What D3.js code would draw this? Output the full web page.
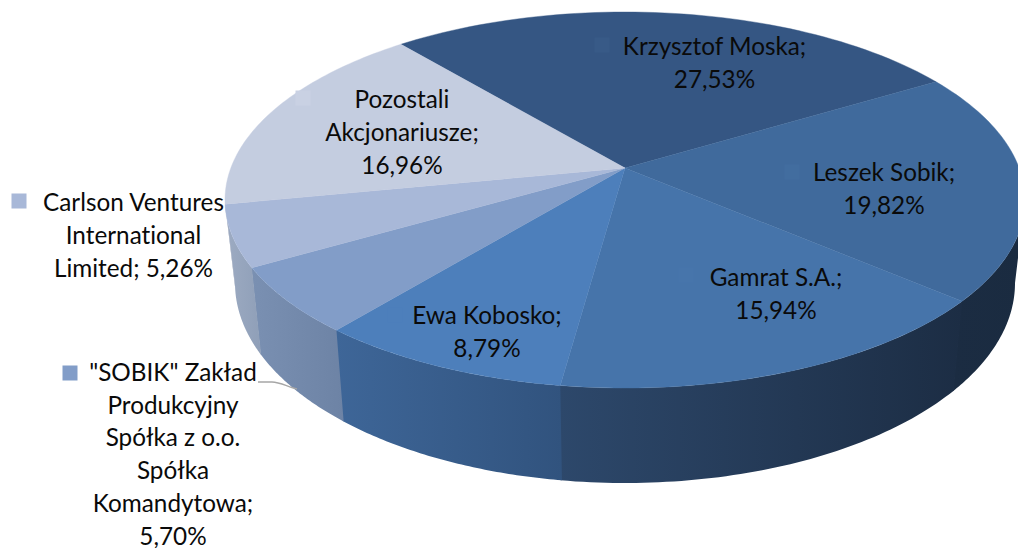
<!DOCTYPE html>
<html><head><meta charset="utf-8">
<script src="https://cdn.jsdelivr.net/npm/d3@7"></script>
<style>html,body{margin:0;padding:0;background:#fff}svg{display:block}text{font-family:Lato,"Open Sans",sans-serif;font-size:24.3px;fill:#0a0a0a;text-anchor:middle;font-variant-ligatures:none}</style>
</head><body>
<svg id="c" width="1018" height="548"></svg>
<script>
const categories = ["Krzysztof Moska","Leszek Sobik","Gamrat S.A.","Ewa Kobosko","\"SOBIK\" Zakład Produkcyjny Spółka z o.o. Spółka Komandytowa","Carlson Ventures International Limited","Pozostali Akcjonariusze"];
const values = [27.53,19.82,15.94,8.79,5.70,5.26,16.96];
const labelLines = [
  ["Krzysztof Moska;","27,53%"],
  ["Leszek Sobik;","19,82%"],
  ["Gamrat S.A.;","15,94%"],
  ["Ewa Kobosko;","8,79%"],
  ["\"SOBIK\" Zakład","Produkcyjny","Spółka z o.o.","Spółka","Komandytowa;","5,70%"],
  ["Carlson Ventures","International","Limited; 5,26%"],
  ["Pozostali","Akcjonariusze;","16,96%"]
];
const topColors = ["#355683","#406a9c","#4674aa","#4d7fbb","#829dc8","#a8b8d8","#c4cde0"];
const wallFrom  = ["#1f3047","#1b2c42","#2d486b","#3e6698","#7a90b2","#9dabc2","#b0b8c8"];
const wallTo    = ["#1f3047","#1a2b40","#1c2d44","#31537e","#6d83a5","#8f9fb8","#b0b8c8"];
const keyColors = ["#385a87","#426d9f","#4775ab","#4d7fbb","#829dc8","#a8b8d8","#c9d1e3"];
// label layout: block centre x, first-line centre y, legend key centre, line step
const labelLayout = [
  {x:714.5,y:46,kx:602,ky:45,lh:33},
  {x:884,y:172,kx:792,ky:172,lh:33},
  {x:776,y:277,kx:686,ky:275,lh:33},
  {x:487,y:315,kx:395,ky:315,lh:33},
  {x:173,y:372,kx:70,ky:373,lh:32.8},
  {x:133.5,y:202,kx:19,ky:201,lh:33},
  {x:402,y:99,kx:303,ky:98,lh:33}
];

const topE = {cx:625,cy:200,rx:400,ry:188};
const botE = {cx:625,cy:283,rx:390,ry:200};
const apexY = 168;
const apexShift = (topE.cy-apexY)/topE.ry;
const deg = Math.PI/180;
const svg = d3.select("#c");
const startDeg = -40;
const pie = d3.pie().sort(null).startAngle(startDeg*deg).endAngle(startDeg*deg+2*Math.PI);
const arcs = pie(values);

// perspective: maps a true pie angle to the parameter on the projected ellipse
function param(a){
  const x=Math.sin(a), y=Math.cos(a), e=apexShift, d=1+e*y;
  return Math.atan2(x*Math.sqrt(1-e*e)/d,(y+e)/d);
}
const pt=(el,t)=>[el.cx+el.rx*Math.sin(t), el.cy-el.ry*Math.cos(t)];
const line=d3.line();
const apex=[topE.cx, apexY];
function range(d){
  let t0=param(d.startAngle), t1=param(d.endAngle);
  while(t1<t0) t1+=2*Math.PI;
  return [t0,t1];
}
function samples(t0,t1){ return d3.range(0,61).map(i=>t0+(t1-t0)*i/60); }

const defs=svg.append("defs");
// walls: drawn from the right so that each overlaps its neighbour's seam
arcs.forEach((d,i)=>{
  let [t0,t1]=range(d);
  if(t0<0){t0+=2*Math.PI;t1+=2*Math.PI;}
  const a=Math.max(t0,Math.PI/2), b=Math.min(t1+0.004,1.5*Math.PI);
  if(b<=a) return;
  const ts=samples(a,b);
  const pts=ts.map(t=>pt(topE,t)).concat(ts.slice().reverse().map(t=>pt(botE,t)));
  const xs=pts.map(p=>p[0]);
  const g=defs.append("linearGradient").attr("id","w"+i).attr("gradientUnits","userSpaceOnUse")
    .attr("x1",d3.min(xs)).attr("x2",d3.max(xs)).attr("y1",0).attr("y2",0);
  g.append("stop").attr("offset",0).attr("stop-color",wallFrom[i]);
  g.append("stop").attr("offset",1).attr("stop-color",wallTo[i]);
  svg.append("path").attr("d",line(pts)+"Z").attr("fill",`url(#w${i})`);
});
// top face
arcs.forEach((d,i)=>{
  const [t0,t1]=range(d);
  const pts=[apex].concat(samples(t0,t1).map(t=>pt(topE,t)));
  svg.append("path").attr("d",line(pts)+"Z").attr("fill",topColors[i]).attr("stroke",topColors[i]).attr("stroke-width",.4);
});
// leader
svg.append("path").attr("d","M258,382L272,382C280,382 288,387 297,389").attr("fill","none").attr("stroke","#a6a6a6").attr("stroke-width",1.3);
// labels
labelLines.forEach((ls,i)=>{
  const L=labelLayout[i];
  svg.append("rect").attr("x",L.kx-7.5).attr("y",L.ky-7.5).attr("width",15).attr("height",15).attr("fill",keyColors[i]);
  const t=svg.append("text");
  ls.forEach((s,j)=>t.append("tspan").attr("x",L.x).attr("y",L.y+j*L.lh).attr("dy","0.36em").text(s));
});
</script>
</body></html>
